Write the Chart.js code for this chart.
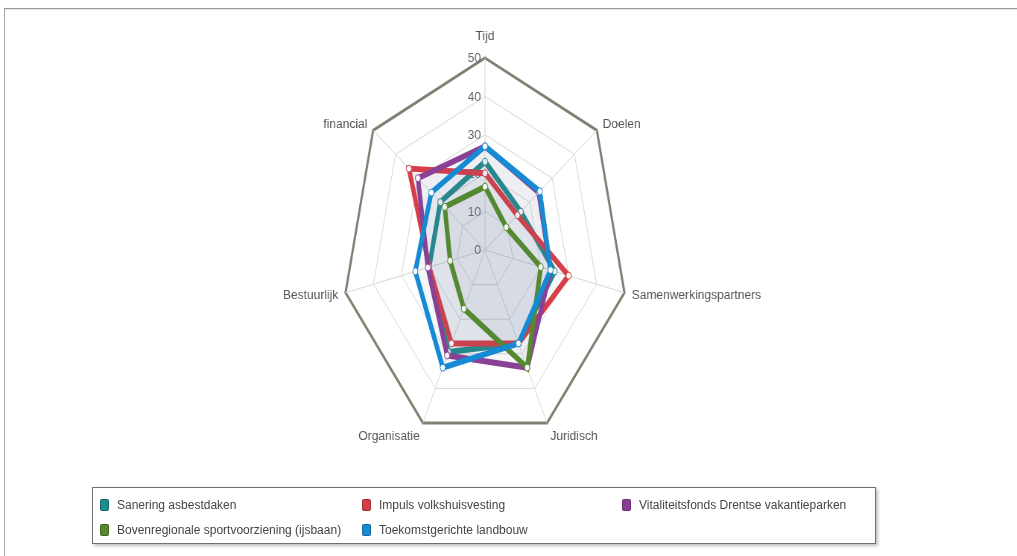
<!DOCTYPE html>
<html>
<head>
<meta charset="utf-8">
<script src="https://cdn.jsdelivr.net/npm/chart.js@4/dist/chart.umd.min.js"></script>
<style>
  html, body { margin: 0; padding: 0; background: #fff; overflow: hidden; width: 1017px; height: 556px; }
  #frame { position: absolute; left: 4px; top: 8px; width: 1030px; height: 560px;
           border-top: 1px solid #9a9a9a; border-left: 1px solid #a8a8a8;
           box-shadow: inset 0 1px 1px #e4e4e4; }
  #wrap { position: absolute; left: 0; top: 0; width: 1365px; height: 556px;
          transform: scaleX(0.745); transform-origin: 0 0; }
  #legend { position: absolute; left: 92px; top: 487px; width: 784px; height: 57px;
            border: 1px solid #707070; box-shadow: 2px 2px 3px rgba(0,0,0,0.25);
            background: #fff; box-sizing: border-box;
            font: 12px "Liberation Sans", Arial, sans-serif; color: #444;
            display: grid; grid-template-columns: 262px 260px 1fr;
            padding: 6px 0 0 7px; line-height: 22px; }
  #legend span.sym { display: inline-block; width: 9px; height: 12px; border-radius: 2px;
                     vertical-align: -2px; margin-right: 8px; box-sizing: border-box;
                     border: 1px solid rgba(0,0,0,0.25); }
</style>
</head>
<body>
<div id="frame"></div>
<div id="wrap"><canvas id="chart" width="1365" height="556"></canvas></div>
<div id="legend"></div>
<script>
// axes of the radar
const axes = ['Tijd', 'Doelen', 'Samenwerkingspartners', 'Juridisch', 'Organisatie', 'Bestuurlijk', 'financial'];
const tickValues = [0, 10, 20, 30, 40, 50];

const seriesNames = [
  'Sanering asbestdaken',
  'Impuls volkshuisvesting',
  'Vitaliteitsfonds Drentse vakantieparken',
  'Bovenregionale sportvoorziening (ijsbaan)',
  'Toekomstgerichte landbouw'
];
const sanering = [23, 16, 25, 27, 29.5, 20, 20];
const impuls = [20, 14.5, 30, 27, 27, 20, 34];
const vitaliteit = [27, 24, 23.5, 34, 30.5, 20.5, 30];
const ijsbaan = [16.5, 9.5, 20, 34, 17, 12.5, 18];
const landbouw = [27, 24.5, 23.5, 27, 34, 25, 24];
const colors = ['#208c8c', '#d63e48', '#8a4096', '#548a2c', '#168ad2'];

const K = 0.745; // horizontal squeeze of the plot

const flatText = {
  id: 'flatText',
  beforeDatasetsDraw(chart) {
    const r = chart.scales.r;
    const ctx = chart.ctx;
    ctx.save();
    ctx.font = '12px "Liberation Sans", Arial, sans-serif';
    ctx.fillStyle = '#666';
    ctx.textAlign = 'right';
    ctx.textBaseline = 'middle';
    tickValues.forEach(v => {
      const y = r.yCenter - r.getDistanceFromCenterForValue(v);
      ctx.save();
      ctx.translate(r.xCenter, y + 1);
      ctx.scale(1 / K, 1);
      ctx.fillText(String(v), -4, 0);
      ctx.restore();
    });
    ctx.restore();
  },
  afterDraw(chart) {
    const r = chart.scales.r;
    const ctx = chart.ctx;
    const dist = r.drawingArea + 10;
    ctx.save();
    ctx.font = '12px "Liberation Sans", Arial, sans-serif';
    ctx.fillStyle = '#555';
    ctx.textBaseline = 'middle';
    axes.forEach((label, i) => {
      const p = r.getPointPosition(i, dist);
      const dx = p.x - r.xCenter;
      const cosA = (r.yCenter - p.y) / dist;
      let off = 1;
      if (cosA > 0.85) off = -11;
      else if (cosA < -0.85) off = 5;
      ctx.save();
      ctx.translate(p.x, p.y + off);
      ctx.scale(1 / K, 1);
      ctx.textAlign = Math.abs(dx) < 2 ? 'center' : (dx > 0 ? 'left' : 'right');
      ctx.fillText(label, 0, 0);
      ctx.restore();
    });
    ctx.restore();
  }
};

const values = [sanering, impuls, vitaliteit, ijsbaan, landbouw];
const datasets = values.map((data, i) => ({
  label: seriesNames[i],
  data,
  borderColor: colors[i],
  backgroundColor: 'rgba(100,115,140,0.055)',
  fill: true,
  borderWidth: 6,
  tension: 0,
  pointRadius: 3.5,
  pointBackgroundColor: '#fff',
  pointBorderColor: colors[i],
  pointBorderWidth: 1,
  order: values.length - 1 - i
}));

new Chart(document.getElementById('chart'), {
  type: 'radar',
  data: { labels: axes, datasets },
  options: {
    responsive: false,
    animation: false,
    layout: { padding: { left: 459, right: 522, top: 58, bottom: 114 } },
    plugins: { legend: { display: false }, tooltip: { enabled: false } },
    scales: {
      r: {
        min: 0,
        max: 50,
        ticks: { display: false, stepSize: 10 },
        pointLabels: { display: false },
        angleLines: { color: '#d6d6d6', lineWidth: 1 },
        grid: {
          color: c => c.tick && c.tick.value === 50 ? '#807f72' : '#d6d6d6',
          lineWidth: c => c.tick && c.tick.value === 50 ? 3 : 1
        }
      }
    }
  },
  plugins: [flatText]
});

const legend = document.getElementById('legend');
seriesNames.forEach((name, i) => {
  const item = document.createElement('div');
  item.innerHTML = `<span class="sym" style="background:${colors[i]}"></span>${name}`;
  legend.appendChild(item);
});
</script>
</body>
</html>
